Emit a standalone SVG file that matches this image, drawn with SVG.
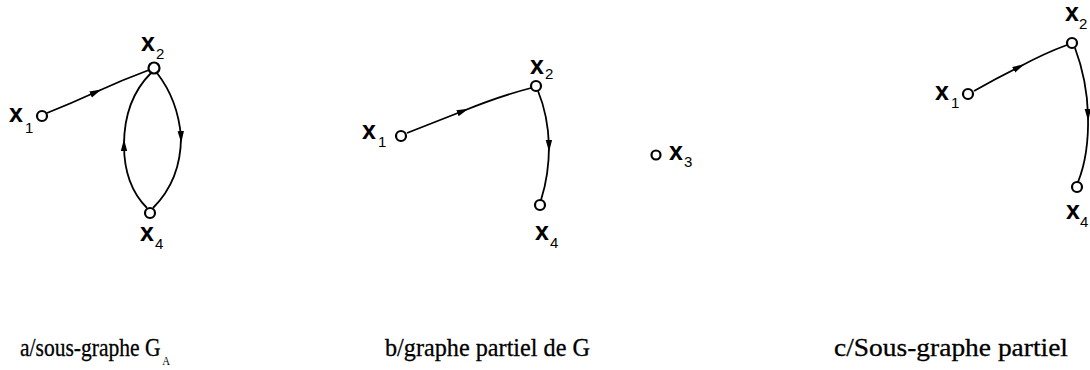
<svg xmlns="http://www.w3.org/2000/svg" width="1090" height="370" viewBox="0 0 1090 370">
<defs>
<marker id="arr" viewBox="0 0 12 8" refX="6" refY="4" markerWidth="12" markerHeight="8" markerUnits="userSpaceOnUse" orient="auto">
<path d="M0,0.8 L12,4 L0,7.2 Z" fill="#000"/>
</marker>
<style>
.edge{fill:none;stroke:#000;stroke-width:1.8;marker-mid:url(#arr)}
.node{fill:#fff;stroke:#000;stroke-width:2.2}
.lbl{font-family:"Liberation Sans",Arial,sans-serif;font-size:25px;font-weight:bold;fill:#000}
.sub{font-size:15px;font-weight:normal}
.cap{font-family:"Liberation Serif","Times New Roman",serif;font-size:26px;fill:#000;stroke:#000;stroke-width:0.3}
.capsub{font-size:13px;stroke-width:0}
</style>
</defs>
<rect width="1090" height="370" fill="#fff"/>
<g id="connectors">
<path class="edge" d="M47,113 Q72,103 96,92 Q122,80 149,70"/>
<path class="edge" d="M157,73 Q178,100 181,137 Q181,180 153,208"/>
<path class="edge" d="M147,208 Q124,185 124,145 Q124,100 151,73"/>
<path class="edge" d="M407,133 Q435,122 463,111 Q500,96 531,88"/>
<path class="edge" d="M538,91 Q548,115 549,146 Q549,175 541,200"/>
<path class="edge" d="M974,91 Q997,78 1019,67 Q1045,53 1067,45"/>
<path class="edge" d="M1075,48 Q1087,80 1088,115 Q1089,155 1078,182"/>
</g>
<g id="a_x1"><circle class="node" cx="42" cy="116" r="5"/><text class="lbl" x="9" y="122">x<tspan class="sub" dx="2" dy="11">1</tspan></text></g>
<g id="a_x2"><circle class="node" cx="154" cy="68" r="5.5"/><text class="lbl" x="141" y="51">x<tspan class="sub" dx="1" dy="8">2</tspan></text></g>
<g id="a_x4"><circle class="node" cx="150" cy="213" r="5"/><text class="lbl" x="140" y="241">x<tspan class="sub" dx="1" dy="8">4</tspan></text></g>
<g id="b_x1"><circle class="node" cx="401" cy="136" r="5"/><text class="lbl" x="362" y="139">x<tspan class="sub" dx="2" dy="8">1</tspan></text></g>
<g id="b_x2"><circle class="node" cx="536" cy="86" r="5"/><text class="lbl" x="530" y="74">x<tspan class="sub" dx="1" dy="5">2</tspan></text></g>
<g id="b_x4"><circle class="node" cx="540" cy="205" r="5"/><text class="lbl" x="535" y="240">x<tspan class="sub" dx="1" dy="8">4</tspan></text></g>
<g id="b_x3"><circle class="node" cx="656" cy="155" r="4.5"/><text class="lbl" x="669" y="160">x<tspan class="sub" dx="1" dy="7">3</tspan></text></g>
<g id="c_x1"><circle class="node" cx="968" cy="94" r="5"/><text class="lbl" x="935" y="100">x<tspan class="sub" dx="2" dy="8">1</tspan></text></g>
<g id="c_x2"><circle class="node" cx="1072" cy="43" r="5"/><text class="lbl" x="1065" y="21">x<tspan class="sub" dx="0" dy="8">2</tspan></text></g>
<g id="c_x4"><circle class="node" cx="1077" cy="187" r="5"/><text class="lbl" x="1066" y="219">x<tspan class="sub" dx="0" dy="8">4</tspan></text></g>
<g id="captions">
<text class="cap" x="20" y="356" textLength="150" lengthAdjust="spacingAndGlyphs">a/sous-graphe G<tspan class="capsub" dx="2" dy="9">A</tspan></text>
<text class="cap" x="385" y="356" textLength="205" lengthAdjust="spacingAndGlyphs">b/graphe partiel de G</text>
<text class="cap" x="834" y="356" textLength="234" lengthAdjust="spacingAndGlyphs">c/Sous-graphe partiel</text>
</g>
</svg>
